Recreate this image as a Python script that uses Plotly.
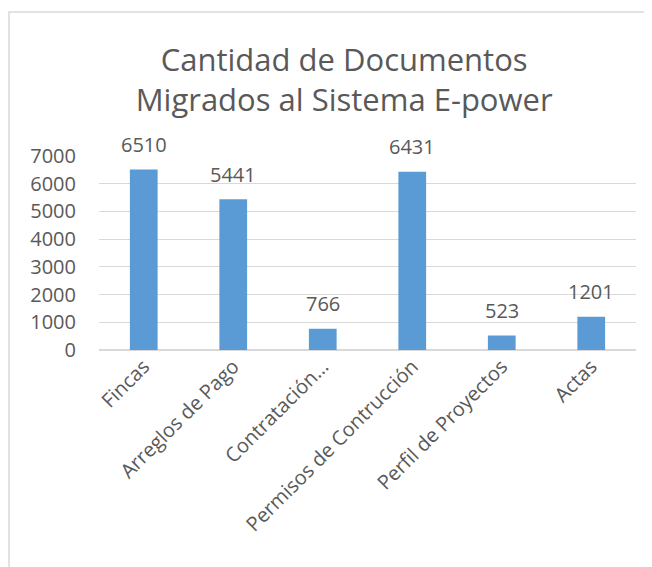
import plotly.graph_objects as go

# datos del grafico
categorias = ["Fincas", "Arreglos de Pago", "Contratación…", "Permisos de Contrucción",
              "Perfil de Proyectos", "Actas"]
documentos = [6510, 5441, 766, 6431, 523, 1201]
ticks_y = [0, 1000, 2000, 3000, 4000, 5000, 6000, 7000]

gris = "#595959"
fuente = "Open Sans, Liberation Sans, sans-serif"

fig = go.Figure()
fig.add_trace(go.Bar(
    x=categorias, y=documentos,
    marker=dict(color="#5b9bd5", line=dict(width=0)),
))

# etiquetas de datos encima de cada barra
for cat, val in zip(categorias, documentos):
    fig.add_annotation(x=cat, y=val, text=str(val), showarrow=False,
                       yanchor="middle", yshift=25,
                       font=dict(size=20, color=gris, family=fuente))

# la pagina tiene 8px de margen en el body, se compensa aqui
fig.update_layout(
    width=644, height=559,
    margin=dict(l=91, r=16, t=148, b=217),
    paper_bgcolor="white", plot_bgcolor="white",
    showlegend=False, bargap=0.69,
    title=dict(text="Cantidad de Documentos<br>Migrados al Sistema E-power",
               x=0.522, xanchor="center", y=0.887, yanchor="middle",
               font=dict(size=31, color=gris, family=fuente)),
    font=dict(family=fuente, color=gris),
)
fig.update_yaxes(range=[0, 7000], tickvals=ticks_y, showgrid=True, gridcolor="#d9d9d9",
                 gridwidth=1, zeroline=True, zerolinecolor="#d9d9d9", showline=False,
                 ticks="", tickfont=dict(size=20, color=gris), ticklabelstandoff=22)
fig.update_xaxes(tickangle=-45, showline=False, ticks="", tickfont=dict(size=20, color=gris))

# borde del grafico
fig.add_shape(type="rect", xref="paper", yref="paper", x0=-0.1676, x1=1.2, y0=-1.5, y1=1.742,
              line=dict(color="#d9d9d9", width=1.5), layer="below")

fig.write_html("out.html")
